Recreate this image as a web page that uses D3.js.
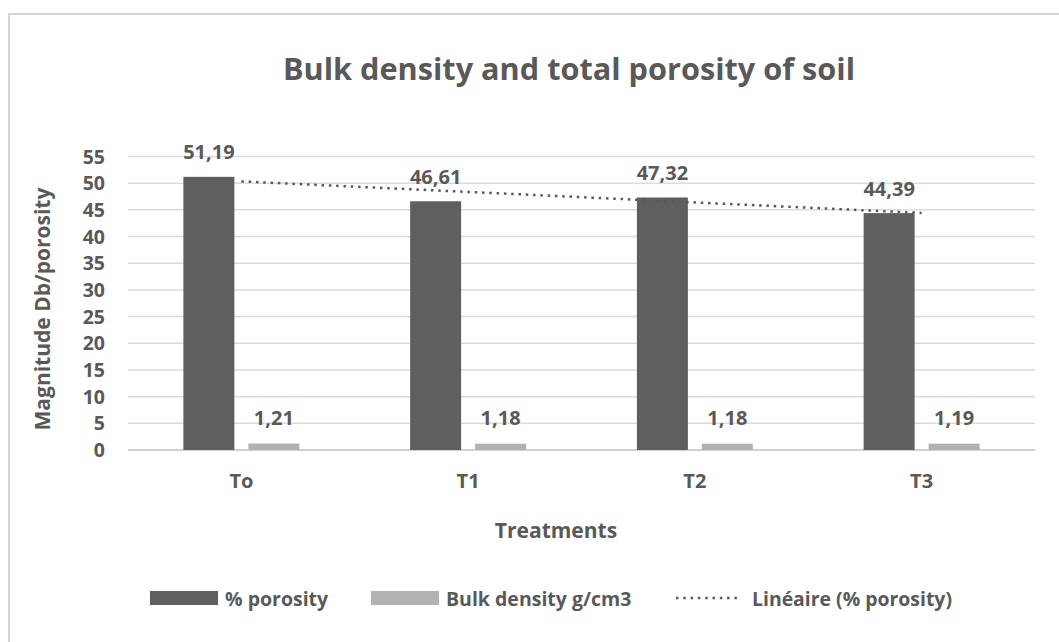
<!DOCTYPE html>
<html><head><meta charset="utf-8">
<script src="https://cdn.jsdelivr.net/npm/d3@7"></script>
<style>body{margin:0;background:#fff}text{font-family:"Open Sans",sans-serif;font-weight:bold;fill:#595959}</style>
</head><body><svg id="c" width="1059" height="642"></svg>
<script>
const categories = ["To","T1","T2","T3"];
const porosity = [51.19,46.61,47.32,44.39];
const bulkDensity = [1.21,1.18,1.18,1.19];
const porosityLabels = ["51,19","46,61","47,32","44,39"];
const densityLabels = ["1,21","1,18","1,18","1,19"];
const yTicks = [0,5,10,15,20,25,30,35,40,45,50,55];
const seriesNames = ["% porosity","Bulk density g/cm3","Linéaire (% porosity)"];
const colors = ["#5f5f5f","#b2b2b2"];

const svg = d3.select("#c");
svg.append("rect").attr("x",9).attr("y",14).attr("width",1070).attr("height",660)
  .attr("fill","#fff").attr("stroke","#d4d4d4").attr("stroke-width",2);

const L=128,R=1035,T=156.5,B=450;
const x = d3.scaleBand().domain(categories).range([L,R]);
const y = d3.scaleLinear().domain([0,55]).range([B,T]);

function fit(sel,target){const n=sel.node();let fs=parseFloat(sel.attr("font-size"));const w=n.getComputedTextLength();sel.attr("font-size",fs*target/w);}
function squeeze(sel,target){const w=sel.node().getComputedTextLength();if(w>target)sel.attr("textLength",target).attr("lengthAdjust","spacingAndGlyphs");}

// grid
svg.append("g").selectAll("line").data(yTicks).join("line")
  .attr("x1",L).attr("x2",R).attr("y1",d=>y(d)).attr("y2",d=>y(d))
  .attr("stroke",d=>d===0?"#d0d0d0":"#dcdcdc").attr("stroke-width",d=>d===0?2:1.5);

// y tick labels
svg.append("g").selectAll("text").data(yTicks).join("text")
  .attr("x",105).attr("y",d=>y(d)+7).attr("text-anchor","end").attr("font-size",19.5).text(d=>d);

const bw=51, gap=14;
const cx=c=>x(c)+x.bandwidth()/2;
svg.append("g").selectAll("rect").data(categories).join("rect")
  .attr("x",c=>cx(c)-gap/2-bw).attr("width",bw)
  .attr("y",(c,i)=>y(porosity[i])).attr("height",(c,i)=>B-y(porosity[i])).attr("fill",colors[0]);
svg.append("g").selectAll("rect").data(categories).join("rect")
  .attr("x",c=>cx(c)+gap/2).attr("width",bw)
  .attr("y",(c,i)=>y(bulkDensity[i])).attr("height",(c,i)=>B-y(bulkDensity[i])).attr("fill",colors[1]);

// trendline (linear regression)
const xs=categories.map((c,i)=>i+1);
const mx=d3.mean(xs), my=d3.mean(porosity);
const slope=d3.sum(xs.map((v,i)=>(v-mx)*(porosity[i]-my)))/d3.sum(xs.map(v=>(v-mx)**2));
const icpt=my-slope*mx;
svg.append("line")
  .attr("x1",cx(categories[0])).attr("x2",cx(categories[3]))
  .attr("y1",y(icpt+slope*1)).attr("y2",y(icpt+slope*4))
  .attr("stroke","#595959").attr("stroke-width",2.5).attr("stroke-dasharray","2.5,4.8");

// data labels
svg.append("g").selectAll("text").data(categories).join("text")
  .attr("x",c=>cx(c)-gap/2-bw/2).attr("y",(c,i)=>y(porosity[i])-17.5)
  .attr("text-anchor","middle").attr("font-size",20).text((c,i)=>porosityLabels[i]);
svg.append("g").selectAll("text").data(categories).join("text")
  .attr("x",c=>cx(c)+gap/2+bw/2).attr("y",(c,i)=>y(bulkDensity[i])-19)
  .attr("text-anchor","middle").attr("font-size",20).text((c,i)=>densityLabels[i]);

// x labels
svg.append("g").selectAll("text").data(categories).join("text")
  .attr("x",c=>cx(c)).attr("y",488).attr("text-anchor","middle").attr("font-size",20).text(c=>c);

// titles
const t=svg.append("text").attr("x",569).attr("y",80).attr("text-anchor","middle").attr("font-size",31)
  .text("Bulk density and total porosity of soil");
squeeze(t,572);
const xt=svg.append("text").attr("x",556).attr("y",538).attr("text-anchor","middle").attr("font-size",21).text("Treatments");
squeeze(xt,125);
const yt=svg.append("text").attr("transform","translate(50,309) rotate(-90)").attr("text-anchor","middle").attr("font-size",21)
  .text("Magnitude Db/porosity");
squeeze(yt,258);

// legend
const lg=svg.append("g");
lg.append("rect").attr("x",150).attr("y",591).attr("width",68).attr("height",14).attr("fill",colors[0]);
const l1=lg.append("text").attr("x",225).attr("y",606).attr("font-size",19.5).text(seriesNames[0]);
squeeze(l1,105);
lg.append("rect").attr("x",371).attr("y",591).attr("width",68).attr("height",14).attr("fill",colors[1]);
const l2=lg.append("text").attr("x",446).attr("y",606).attr("font-size",19.5).text(seriesNames[1]);
squeeze(l2,193);
lg.append("line").attr("x1",676).attr("x2",738).attr("y1",598).attr("y2",598)
  .attr("stroke","#595959").attr("stroke-width",2.5).attr("stroke-dasharray","2.5,4.8");
const l3=lg.append("text").attr("x",752).attr("y",606).attr("font-size",19.5).text(seriesNames[2]);
squeeze(l3,200);
</script></body></html>
